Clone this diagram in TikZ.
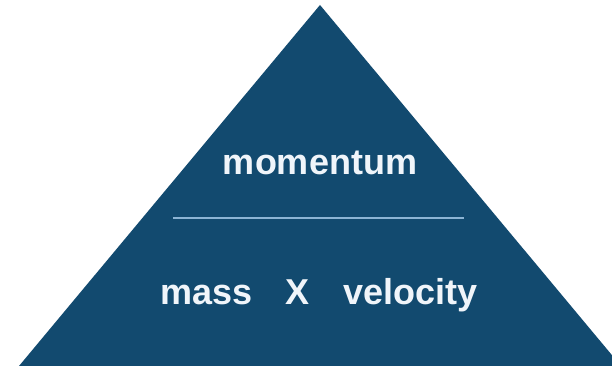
\documentclass[tikz,border=0pt]{standalone}
\usepackage{fontspec}
\setmainfont{Liberation Sans}
\definecolor{tri}{RGB}{18,74,111}
\definecolor{rule}{RGB}{140,180,212}
\definecolor{txt}{RGB}{240,245,250}
\begin{document}
\begin{tikzpicture}[x=1pt,y=1pt,
  lbl/.style={inner sep=0pt,text=txt,font=\fontsize{36}{40}\selectfont\bfseries}]
\useasboundingbox (0,0) rectangle (612,366);
\clip (0,0) rectangle (612,366);
\coordinate (apex) at (320,361);
\coordinate (bl) at (19,0);
\coordinate (br) at (621,0);
\fill[tri] (apex) -- (br) -- (bl) -- cycle;
\coordinate (ra) at (173,148);
\coordinate (rb) at (464,148);
\draw[rule,line width=2.5pt] (ra) -- (rb);
\node[lbl,anchor=base] (mom) at (320,191) {momentum};
\node[lbl,anchor=base west] (mass) at (160,61) {mass};
\node[lbl,anchor=base west] (x) at (285,61) {X};
\node[lbl,anchor=base west] (vel) at (343,61) {velocity};
\end{tikzpicture}
\end{document}
